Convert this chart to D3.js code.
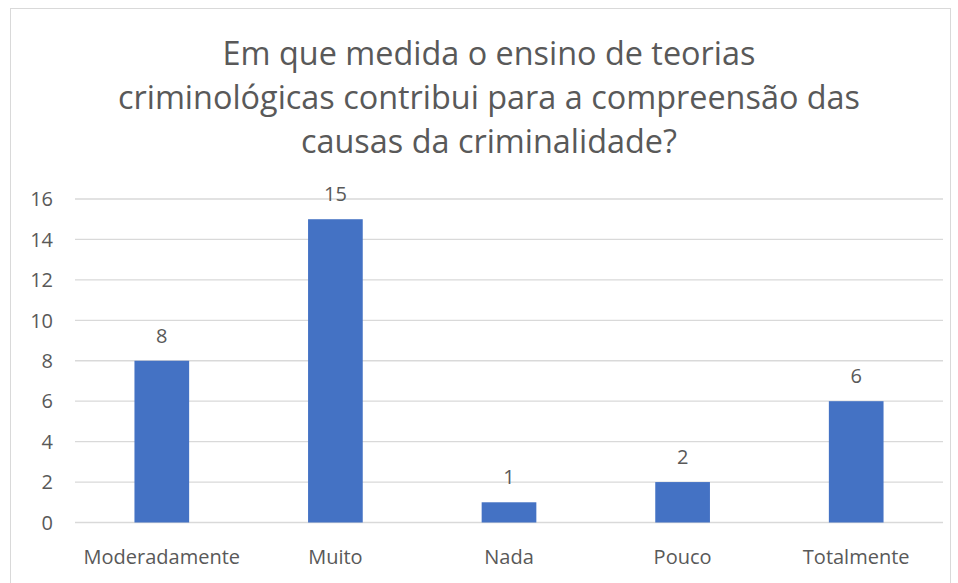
<!DOCTYPE html>
<html>
<head>
<meta charset="utf-8">
<script src="https://cdn.jsdelivr.net/npm/d3@7"></script>
<style>
  body { margin: 0; background: #fff; }
  text { font-family: "Open Sans", "Noto Sans", sans-serif; fill: #595959; }
</style>
</head>
<body>
<div id="chart"></div>
<script>
// chart values
var categories = ["Moderadamente", "Muito", "Nada", "Pouco", "Totalmente"];
var counts = [8, 15, 1, 2, 6];
var yTicks = [0, 2, 4, 6, 8, 10, 12, 14, 16];
var titleLines = [
  "Em que medida o ensino de teorias",
  "criminológicas contribui para a compreensão das",
  "causas da criminalidade?"
];

var width = 958, height = 583;
var margin = {top: 199, right: 15, bottom: 60, left: 75};

var svg = d3.select("#chart")
  .append("svg")
  .attr("width", width)
  .attr("height", height);

// chart area border
svg.append("rect")
  .attr("x", 10.5)
  .attr("y", 8.5)
  .attr("width", 940)
  .attr("height", 580)
  .attr("fill", "none")
  .attr("stroke", "#d9d9d9");

// title
svg.append("g").selectAll("text")
  .data(titleLines)
  .enter().append("text")
  .attr("x", 489)
  .attr("y", function(d, i) { return 65 + i * 44; })
  .attr("text-anchor", "middle")
  .style("font-size", "32.4px")
  .text(function(d) { return d; });

var x = d3.scaleBand()
  .domain(categories)
  .range([margin.left, width - margin.right])
  .paddingInner(0.685)
  .paddingOuter(0.3425);

var y = d3.scaleLinear()
  .domain([0, 16])
  .range([height - margin.bottom - 0.5, margin.top]);

// gridlines
svg.append("g").selectAll("line")
  .data(yTicks)
  .enter().append("line")
  .attr("x1", margin.left)
  .attr("x2", width - margin.right)
  .attr("y1", function(d) { return y(d); })
  .attr("y2", function(d) { return y(d); })
  .attr("stroke", "#d9d9d9")
  .attr("stroke-width", 1.3);

// y tick labels
svg.append("g").selectAll("text")
  .data(yTicks)
  .enter().append("text")
  .attr("x", 53)
  .attr("y", function(d) { return y(d); })
  .attr("dy", "0.36em")
  .attr("text-anchor", "end")
  .style("font-size", "20px")
  .text(function(d) { return d; });

// bars
svg.append("g").selectAll("rect")
  .data(counts)
  .enter().append("rect")
  .attr("x", function(d, i) { return x(categories[i]); })
  .attr("y", function(d) { return y(d); })
  .attr("width", x.bandwidth())
  .attr("height", function(d) { return y(0) - y(d); })
  .attr("fill", "#4472c4");

// value labels
svg.append("g").selectAll("text")
  .data(counts)
  .enter().append("text")
  .attr("x", function(d, i) { return x(categories[i]) + x.bandwidth() / 2; })
  .attr("y", function(d) { return y(d) - 18; })
  .attr("text-anchor", "middle")
  .style("font-size", "20px")
  .text(function(d) { return d; });

// category labels
svg.append("g").selectAll("text")
  .data(categories)
  .enter().append("text")
  .attr("x", function(d) { return x(d) + x.bandwidth() / 2; })
  .attr("y", 564)
  .attr("text-anchor", "middle")
  .style("font-size", "20px")
  .text(function(d) { return d; });
</script>
</body>
</html>
